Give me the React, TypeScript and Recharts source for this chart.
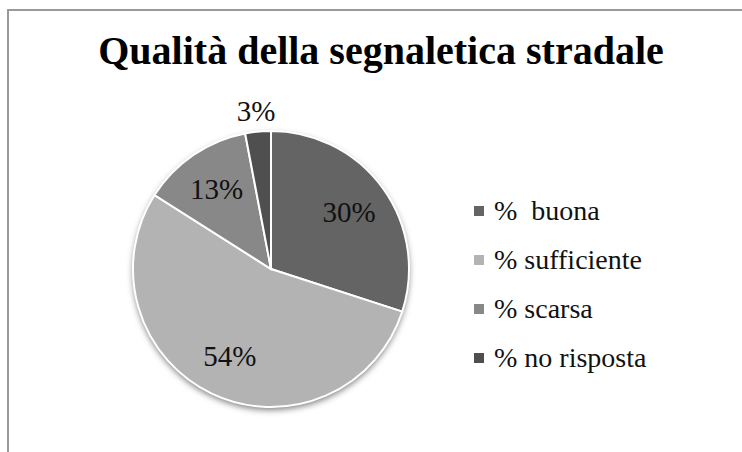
import { PieChart, Pie, Cell, Legend } from 'recharts'

const categories = ['%  buona', '% sufficiente', '% scarsa', '% no risposta']
const shares = [30, 54, 13, 3]
const colors = ['#646464', '#b3b3b3', '#888888', '#4f4f4f']

const data = categories.map((name, i) => ({ name, value: shares[i] }))

const FONT = '"Liberation Serif", "Times New Roman", serif'

const RADIAN = Math.PI / 180

function renderLabel(props: any) {
  const { cx, cy, midAngle, outerRadius, percent } = props
  // small slices get their label outside, like Excel's best fit
  const r = percent < 0.05 ? outerRadius + 21 : outerRadius * 0.7
  const x = cx + r * Math.cos(-midAngle * RADIAN)
  const y = cy + r * Math.sin(-midAngle * RADIAN)
  return (
    <text
      x={x}
      y={y}
      fill="#111"
      textAnchor="middle"
      dominantBaseline="central"
      fontFamily={FONT}
      fontSize={29}
    >
      {`${Math.round(percent * 100)}%`}
    </text>
  )
}

function LegendContent(props: any) {
  const items = (props.payload || [])
    .filter((p: any) => p.type !== 'none')
    .sort((a: any, b: any) => categories.indexOf(a.value) - categories.indexOf(b.value))
  return (
    <div style={{ fontFamily: FONT, fontSize: 28, color: '#111' }}>
      {items.map((entry: any) => (
        <div
          key={entry.value}
          style={{ display: 'flex', alignItems: 'center', height: 49, whiteSpace: 'pre' }}
        >
          <span
            style={{
              display: 'inline-block',
              width: 10,
              height: 10,
              background: entry.color,
              marginRight: 10,
            }}
          />
          <span style={{ lineHeight: '49px' }}>{entry.value}</span>
        </div>
      ))}
    </div>
  )
}

export default function App() {
  return (
    <div
      style={{
        position: 'absolute',
        left: 0,
        top: 0,
        width: 742,
        height: 452,
        background: '#fff',
        overflow: 'hidden',
      }}
    >
      <style>{`.shadow-pie path { filter: drop-shadow(0px 3px 3px rgba(0,0,0,0.5)); }`}</style>
      <div
        style={{
          position: 'absolute',
          left: 7,
          top: 9,
          width: 742,
          height: 452,
          borderTop: '2px solid #9a9a9a',
          borderLeft: '2px solid #9a9a9a',
        }}
      />
      <div
        style={{
          position: 'absolute',
          left: 0,
          top: 31,
          width: 762,
          textAlign: 'center',
          fontFamily: FONT,
          fontWeight: 'bold',
          fontSize: 40,
          lineHeight: '40px',
          color: '#000',
        }}
      >
        Qualità della segnaletica stradale
      </div>
      <div style={{ position: 'absolute', left: 0, top: 0 }}>
        <PieChart width={742} height={452} margin={{ top: 0, right: 0, bottom: 0, left: 0 }}>
          <Pie
            data={data}
            dataKey="value"
            nameKey="name"
            cx={271}
            cy={269}
            outerRadius={138}
            startAngle={90}
            endAngle={-270}
            stroke="none"
            fill="#fff"
            legendType="none"
            className="shadow-pie"
            isAnimationActive={false}
          />
          <Pie
            data={data}
            dataKey="value"
            nameKey="name"
            cx={271}
            cy={269}
            outerRadius={138}
            startAngle={90}
            endAngle={-270}
            stroke="#fff"
            strokeWidth={2}
            label={renderLabel}
            labelLine={false}
            legendType="square"
            isAnimationActive={false}
          >
            {data.map((d, i) => (
              <Cell key={d.name} fill={colors[i]} />
            ))}
          </Pie>
          <Legend
            layout="vertical"
            align="right"
            verticalAlign="top"
            content={<LegendContent />}
            wrapperStyle={{ left: 474, top: 186, width: 260, right: 'auto' }}
          />
        </PieChart>
      </div>
    </div>
  )
}
